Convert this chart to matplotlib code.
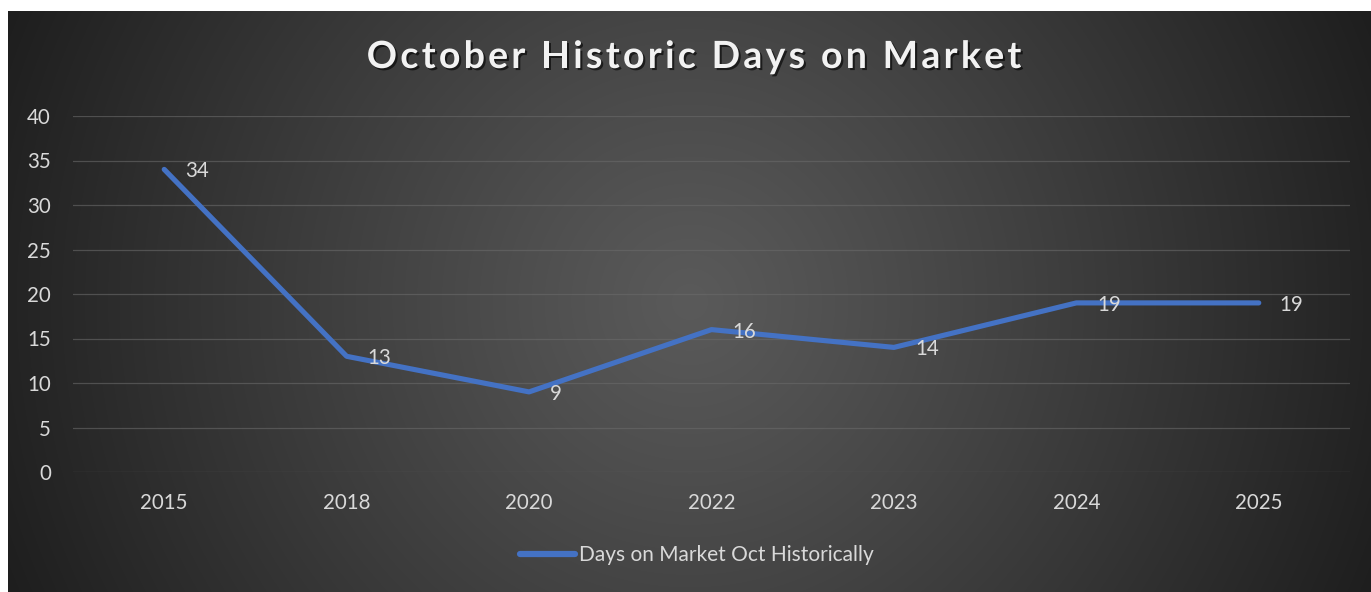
import numpy as np
import matplotlib
matplotlib.use("Agg")
import matplotlib.pyplot as plt
import matplotlib.patheffects as pe

years = ["2015", "2018", "2020", "2022", "2023", "2024", "2025"]
days = [34, 13, 9, 16, 14, 19, 19]
series_name = "Days on Market Oct Historically"
title = "October Historic Days on Market"
yticks = [0, 5, 10, 15, 20, 25, 30, 35, 40]

W, H = 1371, 592
plt.rcParams['font.family'] = ['Lato', 'DejaVu Sans']
fig = plt.figure(figsize=(W / 100, H / 100), dpi=100, facecolor='white')

# background radial gradient panel
bx0, bw, bh = 8, W - 8, H - 11
bg = fig.add_axes([bx0 / W, 0, bw / W, bh / H], zorder=0)
yy, xx = np.mgrid[0:bh, 0:bw]
cx, cy = bw / 2, bh / 2
r = np.hypot(xx - cx, yy - cy) / np.hypot(cx, cy)
c0, c1 = 0x5A / 255, 0x1E / 255
val = c0 + (c1 - c0) * np.clip(r, 0, 1) ** 1.1
img = np.dstack([val, val, val])
bg.imshow(img, aspect='auto', extent=[0, 1, 0, 1], interpolation='bilinear')
bg.axis('off')

ax = fig.add_axes([73 / W, 120 / H, (1350 - 73) / W, (472 - 116) / H], zorder=1)
ax.patch.set_alpha(0)
x = np.arange(len(years))
line, = ax.plot(x, days, color='#4472C4', lw=3.7, solid_capstyle='round',
                solid_joinstyle='round', label=series_name, zorder=3)
for xi, v in zip(x, days):
    ax.annotate(str(v), (xi, v), xytext=(21, -2), textcoords='offset pixels',
                ha='left', va='center', fontsize=14.8, color='#D9D9D9', zorder=4)

ax.set_xlim(-0.5, len(years) - 0.5)
ax.set_ylim(0, 40)
ax.set_yticks(yticks)
ax.set_xticks(x)
ax.set_xticklabels(years)
ax.yaxis.grid(True, color='#6a6a6a', lw=0.9, alpha=0.6)
ax.set_axisbelow(True)
for s in ax.spines.values():
    s.set_visible(False)
ax.tick_params(axis='both', length=0, colors='#D9D9D9', labelsize=14.8)
ax.tick_params(axis='y', pad=16)
ax.tick_params(axis='x', pad=15)

# Title with letter spacing (drawn character by character)
renderer = fig.canvas.get_renderer()
tkw = dict(fontsize=27, fontweight='bold', color='#F2F2F2', va='center', ha='left',
           path_effects=[pe.withSimplePatchShadow(offset=(1.5, -1.5),
                                                   shadow_rgbFace='black', alpha=0.6)])
spacing = 3.3  # px
ty = 1 - 57 / H
def prefix_width(s):
    if not s:
        return 0.0
    t = fig.text(0, 0, s.replace(' ', '\u00a0') + '|', **tkw)
    w = t.get_window_extent(renderer).width
    t.remove()
    tb = fig.text(0, 0, '|', **tkw)
    wb = tb.get_window_extent(renderer).width
    tb.remove()
    return w - wb
total = prefix_width(title) + spacing * (len(title) - 1)
x0 = 694 - total / 2
for i, ch in enumerate(title):
    if ch == ' ':
        continue
    px = x0 + prefix_width(title[:i]) + spacing * i
    fig.text(px / W, ty, ch, **tkw)

leg = fig.legend(handles=[line], loc='center', bbox_to_anchor=(697 / W, 37 / H),
                 frameon=False, fontsize=15, handlelength=2.6, handletextpad=0.2,
                 labelcolor='#D9D9D9')
leg.get_lines()[0].set_linewidth(4.5)

fig.savefig('out.png', dpi=100, facecolor='white')
